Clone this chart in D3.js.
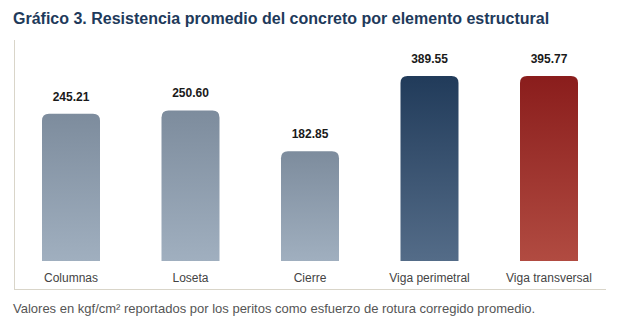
<!DOCTYPE html>
<html><head><meta charset="utf-8">
<script src="https://cdn.jsdelivr.net/npm/d3@7"></script>
<style>
html,body{margin:0;padding:0;background:#fff;}
svg{display:block;font-family:"Liberation Sans",Arial,sans-serif;}
</style></head>
<body><div id="chart"></div>
<script>
const categories = ["Columnas","Loseta","Cierre","Viga perimetral","Viga transversal"];
const values = [245.21, 250.60, 182.85, 389.55, 395.77];
const valueLabels = ["245.21","250.60","182.85","389.55","395.77"];
const colorTop = ["#7d8c9d","#7d8c9d","#7d8c9d","#213b5a","#8a1d1c"];
const colorBottom = ["#a0afbf","#a0afbf","#a0afbf","#546c88","#b14b41"];
const title = "Gráfico 3. Resistencia promedio del concreto por elemento estructural";
const note = "Valores en kgf/cm² reportados por los peritos como esfuerzo de rotura corregido promedio.";

const W = 617, H = 333;
const svg = d3.select("#chart").append("svg").attr("width", W).attr("height", H);

const x = d3.scaleBand().domain(categories).range([11.25, 608.75]).padding(0);
const barW = 58;
const y = d3.scaleLinear().domain([0, 308]).range([261, 76]).clamp(true);

const defs = svg.append("defs");
categories.forEach((c,i)=>{
  const g = defs.append("linearGradient").attr("id","g"+i).attr("x1",0).attr("y1",0).attr("x2",0).attr("y2",1);
  g.append("stop").attr("offset","0%").attr("stop-color",colorTop[i]);
  g.append("stop").attr("offset","100%").attr("stop-color",colorBottom[i]);
});

svg.append("text").attr("x",13).attr("y",24)
  .attr("font-size",16).attr("font-weight","bold").attr("fill","#1e3a5b").text(title);

// frame lines
svg.append("line").attr("x1",14.5).attr("x2",14.5).attr("y1",40).attr("y2",289.5).attr("stroke","#d9d5c9").attr("stroke-width",1);
svg.append("line").attr("x1",14).attr("x2",606).attr("y1",289.5).attr("y2",289.5).attr("stroke","#d9d5c9").attr("stroke-width",1);

const r = 7;
function barPath(x0, y0, w, y1){
  return `M${x0},${y1}V${y0+r}Q${x0},${y0} ${x0+r},${y0}H${x0+w-r}Q${x0+w},${y0} ${x0+w},${y0+r}V${y1}Z`;
}
const bars = svg.append("g");
categories.forEach((c,i)=>{
  const cx = x(c) + x.bandwidth()/2;
  const top = y(values[i]);
  bars.append("path").attr("d", barPath(cx-barW/2, top, barW, y(0))).attr("fill","url(#g"+i+")");
  bars.append("text").attr("x",cx).attr("y",top-13).attr("text-anchor","middle")
    .attr("font-size",12).attr("font-weight","bold").attr("fill","#1a1a1a").text(valueLabels[i]);
  bars.append("text").attr("x",cx).attr("y",282).attr("text-anchor","middle")
    .attr("font-size",12).attr("fill","#444").text(c);
});

svg.append("text").attr("x",13).attr("y",313).attr("font-size",13).attr("fill","#555").text(note);
</script></body></html>
